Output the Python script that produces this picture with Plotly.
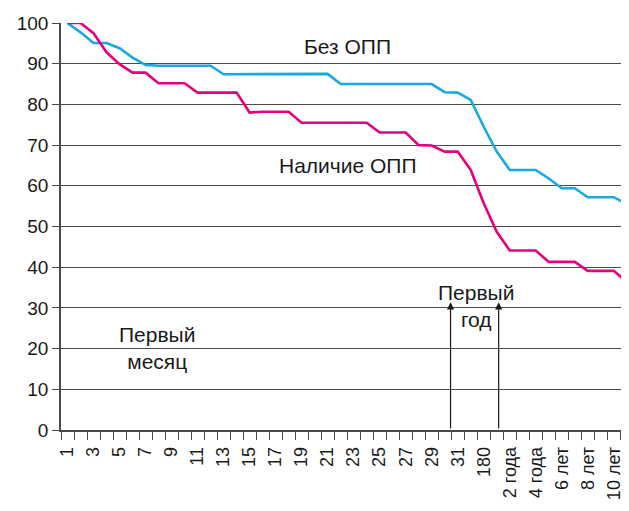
import plotly.graph_objects as go

periods = [str(d) for d in range(1, 32)] + ["90", "180", "1 год", "2 года", "3 года", "4 года",
                                           "5 лет", "6 лет", "7 лет", "8 лет", "9 лет", "10 лет", "11 лет"]
shown_labels = [str(d) for d in range(1, 32, 2)] + ["180", "2 года", "4 года", "6 лет", "8 лет", "10 лет"]

without_opp = [100, 97.7, 95.1, 95.1, 93.8, 91.5, 89.7, 89.5, 89.5, 89.5, 89.5, 89.5,
               87.4, 87.4, 87.5, 87.5, 87.5, 87.5, 87.5, 87.5, 87.5,
               85.0, 85.0, 85.0, 85.0, 85.0, 85.0, 85.0, 85.0,
               83.0, 82.9, 81.1, 74.5, 68.4, 63.9, 63.9, 63.9, 61.8, 59.4, 59.4,
               57.2, 57.2, 57.2, 55.5]
with_opp = [100, 100, 97.5, 92.8, 89.9, 87.8, 87.8, 85.2, 85.2, 85.2, 82.9, 82.9, 82.9, 82.9,
            78.0, 78.2, 78.2, 78.2, 75.5, 75.5, 75.5, 75.5, 75.5, 75.5,
            73.1, 73.1, 73.1, 70.0, 69.9, 68.4, 68.4, 63.9, 55.7, 48.7,
            44.1, 44.1, 44.1, 41.3, 41.3, 41.3, 39.1, 39.1, 39.1, 36.4]

idx = list(range(len(periods)))
tickvals = [i for i, p in enumerate(periods) if p in shown_labels]
ticktext = [periods[i] for i in tickvals]

FONT = "Liberation Sans, Arial, sans-serif"
GRID = "#4a4a4a"

fig = go.Figure()
fig.add_trace(go.Scatter(x=idx, y=without_opp, mode="lines",
                         line=dict(color="#19a9e1", width=2.6), name="Без ОПП"))
fig.add_trace(go.Scatter(x=idx, y=with_opp, mode="lines",
                         line=dict(color="#e5007d", width=2.6), name="Наличие ОПП"))

ann_font = dict(family=FONT, size=21, color="#1a1a1a")
fig.add_annotation(x=21.55, y=94.3, text="Без ОПП", showarrow=False, font=ann_font)
fig.add_annotation(x=21.55, y=65.1, text="Наличие ОПП", showarrow=False, font=ann_font)
fig.add_annotation(x=6.86, y=20.1, text="Первый<br>месяц", showarrow=False, font=ann_font)
fig.add_annotation(x=31.4, y=30.5, text="Первый<br>год", showarrow=False, font=ann_font)

for ax_x in (29.45, 33.15):
    fig.add_annotation(x=ax_x, y=31.4, ax=ax_x, ay=0, xref="x", yref="y",
                       axref="x", ayref="y", text="", showarrow=True,
                       arrowhead=2, arrowsize=1.2, arrowwidth=1.2, arrowcolor="#1a1a1a")

# the page body has an 8px default margin, so the figure is sized to the visible area
fig.update_layout(
    width=621, height=503,
    margin=dict(l=53, r=0, t=15, b=81),
    paper_bgcolor="white", plot_bgcolor="white",
    showlegend=False,
    font=dict(family=FONT, color="#1a1a1a"),
)
fig.update_xaxes(
    automargin=False,
    range=[-0.5, 43.17],
    tickmode="array", tickvals=tickvals, ticktext=ticktext,
    tickangle=-90, tickfont=dict(size=18, family=FONT, color="#1a1a1a"),
    ticks="outside", ticklen=8, tickcolor="rgba(0,0,0,0)",
    showgrid=False, zeroline=False,
    showline=True, linecolor=GRID, linewidth=1.5,
    minor=dict(tickmode="array", tickvals=[i + 0.5 for i in range(-1, 44)],
               ticks="outside", ticklen=8, tickcolor=GRID, tickwidth=1.3, showgrid=False),
)
fig.update_yaxes(
    automargin=False,
    range=[0, 100], tickmode="array", tickvals=list(range(0, 101, 10)),
    tickfont=dict(size=19, family=FONT, color="#1a1a1a"),
    ticks="outside", ticklen=7, tickcolor=GRID, tickwidth=1.3,
    showgrid=True, gridcolor=GRID, gridwidth=1.3,
    zeroline=False, showline=True, linecolor=GRID, linewidth=1.5,
)

fig.write_html("out.html")
